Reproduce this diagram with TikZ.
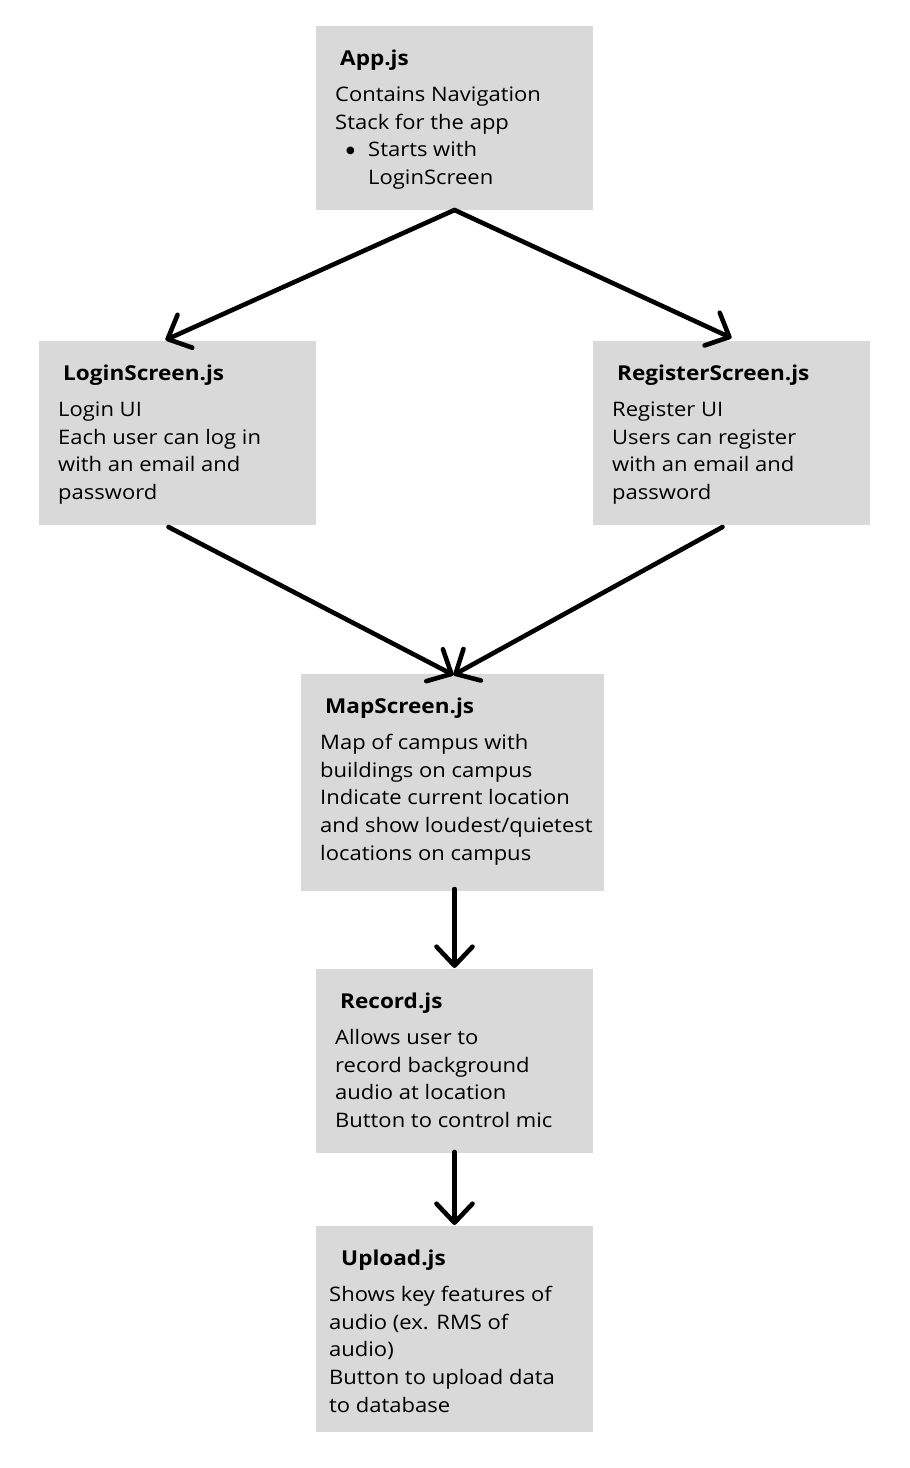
\documentclass[tikz,border=0pt]{standalone}
\usepackage{fontspec}
\setmainfont{Open Sans}[FakeStretch=1.1]
\newfontfamily\symfont{DejaVu Sans}
\usetikzlibrary{arrows.meta}
\definecolor{boxgray}{HTML}{D9D9D9}
\newcommand{\blines}[1]{\vtop{\baselineskip=27.6pt\lineskiplimit=-20pt #1}}
\newcommand{\bul}{\raisebox{3.2pt}{\symfont\fontsize{10}{10}\selectfont●}}
\begin{document}
\begin{tikzpicture}[x=1pt,y=-1pt,
  box/.style={fill=boxgray,draw=none,inner sep=0pt,outer sep=0pt},
  ttl/.style={anchor=base west,inner sep=0pt,font=\fontsize{20.5}{24}\selectfont\bfseries},
  bdy/.style={anchor=base west,inner sep=0pt,font=\fontsize{20}{27.6}\selectfont},
  arr/.style={line width=4.6pt,line cap=round,-{Straight Barb[length=19pt,width=36pt,round]}}]
\useasboundingbox (0,0) rectangle (910,1468);
\fill[white] (0,0) rectangle (910,1468);
% boxes
\node[box,minimum width=277pt,minimum height=184pt] (app) at (454.5,118) {};
\node[box,minimum width=277pt,minimum height=184pt] (login) at (177.5,433) {};
\node[box,minimum width=277pt,minimum height=184pt] (reg) at (731.5,433) {};
\node[box,minimum width=303pt,minimum height=217pt] (map) at (452.5,782.5) {};
\node[box,minimum width=277pt,minimum height=184pt] (rec) at (454.5,1061) {};
\node[box,minimum width=277pt,minimum height=206pt] (upl) at (454.5,1329) {};
% texts
\node[ttl] (appt) at (340,65.7) {App.js};
\node[bdy] (appb) at (335,101.7) {\blines{\hbox{Contains Navigation}\hbox{Stack for the app}\hbox{\hskip11pt\hbox to 22pt{\bul\hss}Starts with}\hbox{\hskip33pt LoginScreen}}};
\node[ttl] (logint) at (63,380.7) {LoginScreen.js};
\node[bdy] (loginb) at (58,416.7) {\blines{\hbox{Login UI}\hbox{Each user can log in}\hbox{with an email and}\hbox{password}}};
\node[ttl] (regt) at (617,380.7) {RegisterScreen.js};
\node[bdy] (regb) at (612,416.7) {\blines{\hbox{Register UI}\hbox{Users can register}\hbox{with an email and}\hbox{password}}};
\node[ttl] (mapt) at (325,713.7) {MapScreen.js};
\node[bdy] (mapb) at (320,749.7) {\blines{\hbox{Map of campus with}\hbox{buildings on campus}\hbox{Indicate current location}\hbox{and show loudest/quietest}\hbox{locations on campus}}};
\node[ttl] (rect) at (340,1008.7) {Record.js};
\node[bdy] (recb) at (335,1044.7) {\blines{\hbox{Allows user to}\hbox{record background}\hbox{audio at location}\hbox{Button to control mic}}};
\node[ttl] (uplt) at (341,1265.7) {Upload.js};
\node[bdy] (uplb) at (329,1301.7) {\blines{\hbox{Shows key features of}\hbox{audio (ex. RMS of}\hbox{audio)}\hbox{Button to upload data}\hbox{to database}}};
% connectors
\draw[arr] (app.south) -- ([xshift=-12pt,yshift=1pt]login.north);
\draw[arr] (app.south) -- ([yshift=3pt]reg.north);
\draw[arr] ([xshift=-9pt,yshift=-2pt]login.south) -- ([xshift=1pt,yshift=-1pt]map.north);
\draw[arr] ([xshift=-9pt,yshift=-2pt]reg.south) -- ([xshift=1pt,yshift=-1pt]map.north);
\draw[arr] ([xshift=2pt,yshift=2pt]map.south) -- ([yshift=1pt]rec.north);
\draw[arr] ([yshift=1pt]rec.south) -- ([yshift=1pt]upl.north);
\end{tikzpicture}
\end{document}
